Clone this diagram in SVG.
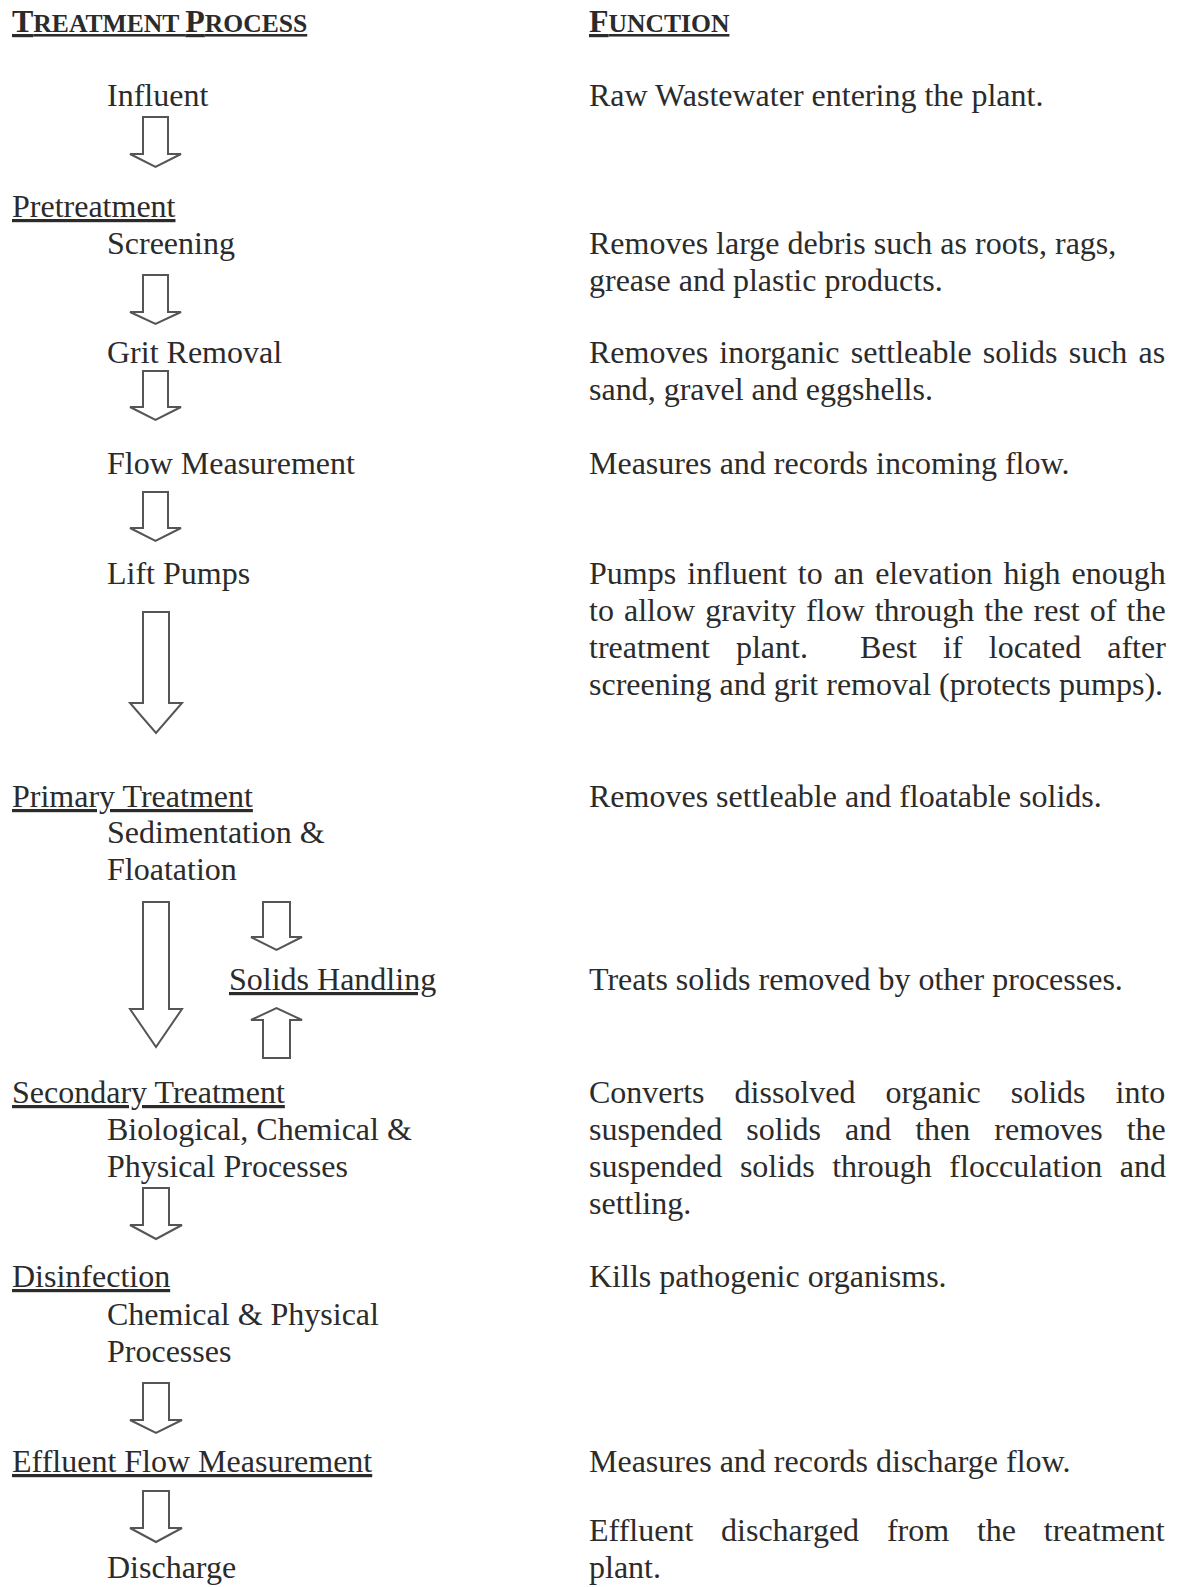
<svg xmlns="http://www.w3.org/2000/svg" width="1177" height="1587" viewBox="0 0 1177 1587">
<style>
.t{font-family:"Liberation Serif","Times New Roman",serif;font-size:32px;fill:#2b2b2b}
.h{font-weight:bold}
.sc{font-size:25.6px}
.u{text-decoration:underline}
.arrow{fill:#fff;stroke:#555;stroke-width:2;stroke-linejoin:miter}
</style>
<rect width="1177" height="1587" fill="#fff"/>
<g id="headings">
<text class="t h u" x="12" y="32"><tspan>T</tspan><tspan class="sc">REATMENT </tspan><tspan>P</tspan><tspan class="sc">ROCESS</tspan></text>
<text class="t h u" x="589" y="32"><tspan>F</tspan><tspan class="sc">UNCTION</tspan></text>
</g>
<g id="influent"><text class="t" x="107" y="106">Influent</text><text class="t" x="589" y="106">Raw Wastewater entering the plant.</text></g>
<g id="pretreatment"><text class="t u" x="12" y="217">Pretreatment</text></g>
<g id="screening"><text class="t" x="107" y="254">Screening</text><text class="t" x="589" y="254">Removes large debris such as roots, rags,</text><text class="t" x="589" y="291">grease and plastic products.</text></g>
<g id="grit-removal"><text class="t" x="107" y="363">Grit Removal</text><text class="t" x="589" y="363" word-spacing="3.2">Removes inorganic settleable solids such as</text><text class="t" x="589" y="400">sand, gravel and eggshells.</text></g>
<g id="flow-measurement"><text class="t" x="107" y="474">Flow Measurement</text><text class="t" x="589" y="474">Measures and records incoming flow.</text></g>
<g id="lift-pumps"><text class="t" x="107" y="584">Lift Pumps</text>
<text class="t" x="589" y="584" word-spacing="3.1">Pumps influent to an elevation high enough</text>
<text class="t" x="589" y="621" word-spacing="2.1">to allow gravity flow through the rest of the</text>
<text class="t" x="589" y="658" word-spacing="18.1" xml:space="preserve">treatment plant.  Best if located after</text>
<text class="t" x="589" y="695">screening and grit removal (protects pumps).</text></g>
<g id="primary-treatment"><text class="t u" x="12" y="807">Primary Treatment</text><text class="t" x="107" y="843">Sedimentation &amp;</text><text class="t" x="107" y="880">Floatation</text><text class="t" x="589" y="807">Removes settleable and floatable solids.</text></g>
<g id="solids-handling"><text class="t u" x="229" y="990">Solids Handling</text><text class="t" x="589" y="990">Treats solids removed by other processes.</text></g>
<g id="secondary-treatment"><text class="t u" x="12" y="1103">Secondary Treatment</text><text class="t" x="107" y="1140">Biological, Chemical &amp;</text><text class="t" x="107" y="1177">Physical Processes</text>
<text class="t" x="589" y="1103" word-spacing="22">Converts dissolved organic solids into</text>
<text class="t" x="589" y="1140" word-spacing="16">suspended solids and then removes the</text>
<text class="t" x="589" y="1177" word-spacing="9.6">suspended solids through flocculation and</text>
<text class="t" x="589" y="1214">settling.</text></g>
<g id="disinfection"><text class="t u" x="12" y="1287">Disinfection</text><text class="t" x="107" y="1325">Chemical &amp; Physical</text><text class="t" x="107" y="1362">Processes</text><text class="t" x="589" y="1287">Kills pathogenic organisms.</text></g>
<g id="effluent-flow-measurement"><text class="t u" x="12" y="1472">Effluent Flow Measurement</text><text class="t" x="589" y="1472">Measures and records discharge flow.</text></g>
<g id="discharge"><text class="t" x="107" y="1578">Discharge</text><text class="t" x="589" y="1541" word-spacing="19.8">Effluent discharged from the treatment</text><text class="t" x="589" y="1578">plant.</text></g>
<g id="connectors">
<path class="arrow" d="M143,117 H168 V154 H181 L155.5,167 L130,154 H143 Z"/>
<path class="arrow" d="M143,275 H168 V312 H181 L155.5,324 L130,312 H143 Z"/>
<path class="arrow" d="M143,371 H168 V407 H181 L155.5,420 L130,407 H143 Z"/>
<path class="arrow" d="M143,492 H168 V528 H181 L155.5,541 L130,528 H143 Z"/>
<path class="arrow" d="M143,612 H169 V703 H182 L156,733 L130,703 H143 Z"/>
<path class="arrow" d="M143,902 H169 V1009 H182 L156,1047 L130,1009 H143 Z"/>
<path class="arrow" d="M263,902 H290 V937 H302 L276.5,950 L251,937 H263 Z"/>
<path class="arrow" d="M263,1058 H290 V1020 H302 L276.5,1008 L251,1020 H263 Z"/>
<path class="arrow" d="M143,1188 H169 V1225 H182 L156,1239 L130,1225 H143 Z"/>
<path class="arrow" d="M143,1383 H169 V1420 H182 L156,1433 L130,1420 H143 Z"/>
<path class="arrow" d="M143,1491 H169 V1528 H182 L156,1542 L130,1528 H143 Z"/>
</g>
</svg>
